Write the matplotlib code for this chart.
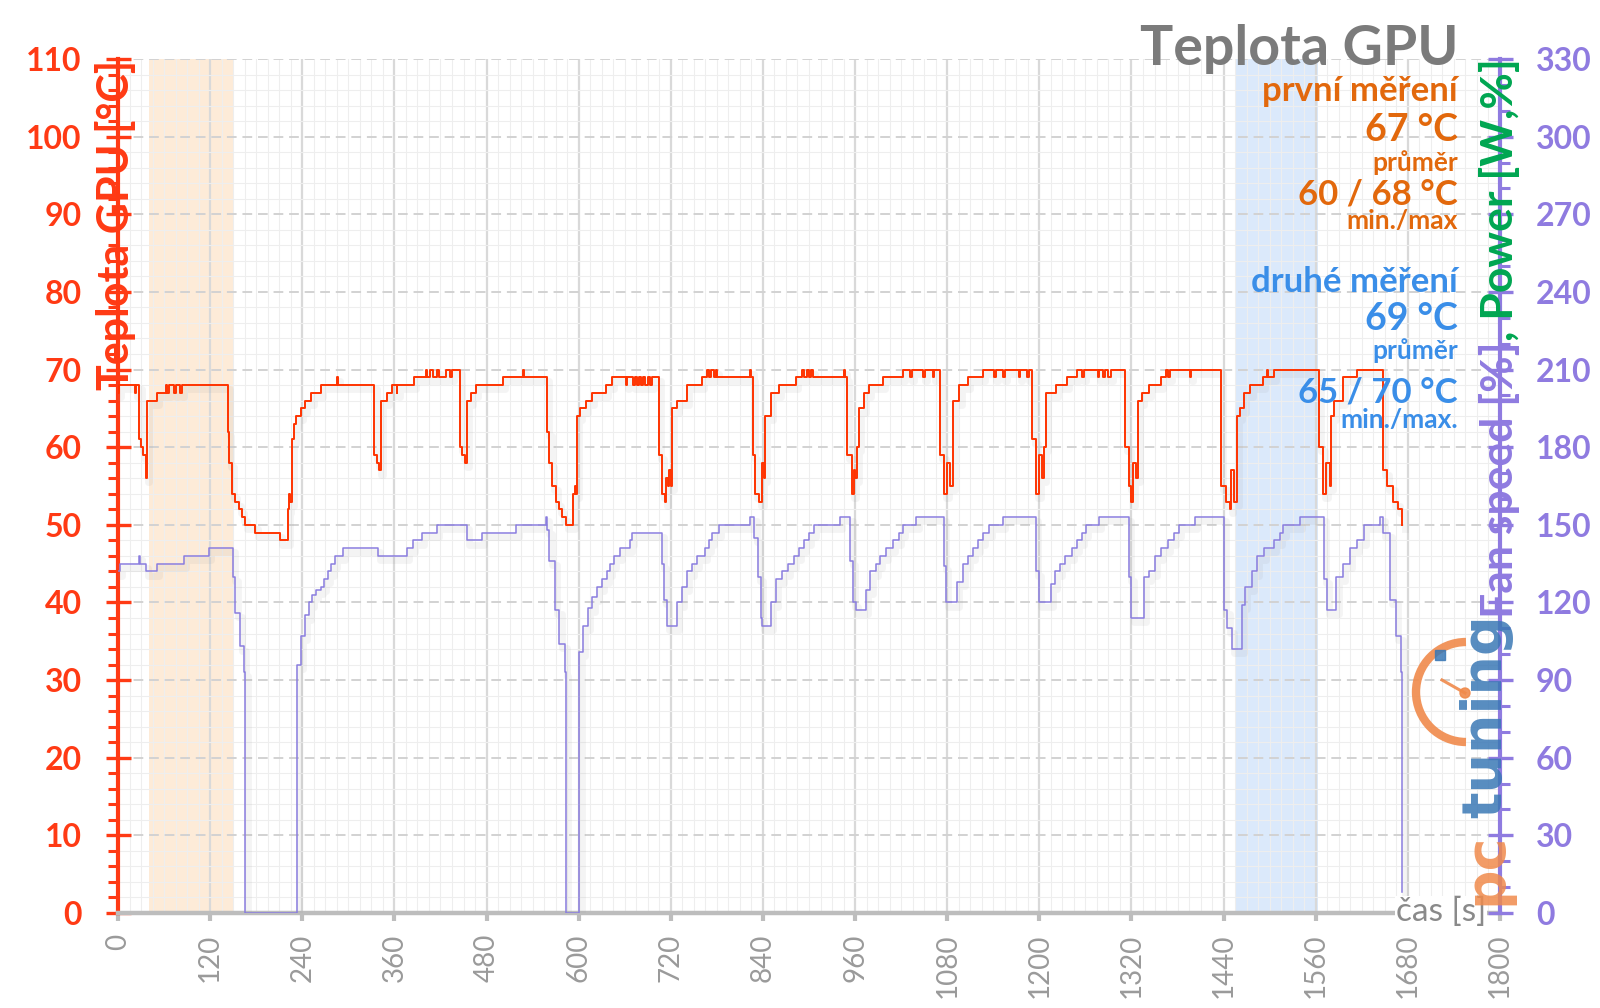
import numpy as np
import matplotlib.pyplot as plt
import matplotlib.patheffects as pe
from matplotlib.patches import Arc, Circle
from matplotlib.ticker import MultipleLocator

plt.rcParams['font.family'] = ['Lato', 'DejaVu Sans']

# ------------------ DATA ------------------
# GPU temperature [°C] : (time s, value) breakpoints, held until the next one
temp_pts = [
    (0, 67), (1, 68), (20, 68), (22, 67), (24, 68), (27, 68), (28, 61), (30, 60), (33, 59), (36, 56),
    (38, 66), (50, 66), (51, 67), (62, 67), (63, 68), (64, 67), (66, 68), (72, 68), (73, 67), (75, 68),
    (80, 68), (81, 67), (83, 68), (141, 68), (143, 62), (145, 58), (148, 54), (152, 53), (157, 52),
    (162, 51), (165, 50), (178, 50), (179, 49), (210, 49), (211, 48), (220, 48), (221, 52), (223, 54),
    (224, 53), (226, 61), (229, 63), (232, 64), (238, 65), (244, 66), (252, 67), (264, 68), (283, 68),
    (285, 69), (287, 68), (333, 68), (334, 59), (337, 58), (340, 57), (342, 60), (343, 66), (350, 67),
    (357, 68), (362, 68), (363, 67), (364, 68), (384, 68), (385, 69), (400, 69), (401, 70), (403, 69),
    (406, 70), (410, 69), (415, 70), (418, 69), (427, 70), (432, 69), (435, 70), (444, 70), (445, 60),
    (448, 59), (452, 58), (454, 62), (455, 66), (460, 67), (466, 68), (500, 68), (501, 69), (526, 69),
    (527, 70), (529, 69), (557, 69), (559, 62), (562, 58), (565, 55), (570, 53), (574, 52), (578, 51),
    (583, 50), (592, 50), (593, 54), (595, 55), (596, 54), (598, 64), (602, 65), (609, 66), (617, 67),
    (635, 68), (643, 69), (660, 69), (661, 68), (663, 69), (670, 69), (671, 68), (673, 69), (676, 68),
    (678, 69), (681, 68), (684, 69), (687, 68), (690, 69), (693, 68), (696, 69), (702, 69), (704, 59),
    (709, 54), (712, 53), (714, 56), (716, 55), (718, 57), (720, 55), (722, 65), (728, 66), (741, 68),
    (761, 69), (767, 70), (770, 69), (773, 70), (776, 69), (779, 70), (780, 69), (822, 69), (823, 70),
    (825, 69), (827, 59), (830, 54), (835, 53), (839, 58), (841, 56), (843, 64), (850, 67), (861, 68),
    (883, 69), (891, 70), (894, 69), (897, 70), (900, 69), (902, 70), (905, 69), (945, 69), (946, 70),
    (947, 69), (950, 59), (956, 54), (958, 57), (960, 56), (962, 60), (965, 65), (972, 67), (978, 68),
    (996, 69), (1022, 70), (1030, 70), (1031, 69), (1034, 70), (1048, 70), (1049, 69), (1051, 70),
    (1060, 70), (1061, 69), (1063, 70), (1067, 70), (1070, 59), (1076, 54), (1080, 58), (1083, 55),
    (1087, 66), (1096, 68), (1107, 69), (1126, 70), (1140, 70), (1141, 69), (1143, 70), (1152, 70),
    (1153, 69), (1155, 70), (1172, 70), (1173, 69), (1175, 70), (1183, 70), (1184, 69), (1186, 70),
    (1189, 70), (1191, 61), (1196, 54), (1200, 59), (1203, 56), (1206, 60), (1209, 67), (1222, 68),
    (1236, 69), (1249, 70), (1255, 69), (1258, 70), (1275, 70), (1276, 69), (1278, 70), (1283, 69),
    (1285, 70), (1290, 69), (1293, 70), (1306, 70), (1311, 60), (1317, 55), (1320, 53), (1322, 58),
    (1326, 56), (1329, 66), (1334, 67), (1343, 68), (1359, 69), (1365, 70), (1367, 69), (1370, 70),
    (1395, 70), (1396, 69), (1398, 70), (1432, 70), (1436, 55), (1443, 53), (1448, 52), (1450, 57),
    (1453, 53), (1457, 64), (1461, 65), (1466, 67), (1475, 68), (1491, 69), (1496, 70), (1498, 69),
    (1505, 70), (1562, 70), (1564, 60), (1569, 54), (1573, 58), (1578, 55), (1580, 64), (1584, 66),
    (1596, 69), (1614, 70), (1644, 70), (1648, 57), (1653, 55), (1660, 53), (1667, 52), (1673, 50),
]

# Fan speed (right axis scale) : (time s, value) breakpoints
fan_pts = [
    (0, 132), (2, 135), (27, 135), (28, 138), (29, 135), (36, 135), (37, 132), (50, 132), (51, 135),
    (85, 135), (86, 138), (118, 138), (119, 141), (147, 141), (150, 130), (153, 116), (159, 103),
    (164, 93), (166, 0), (231, 0), (233, 96), (238, 107), (244, 115), (249, 120), (253, 123), (258, 125),
    (264, 126), (268, 129), (273, 132), (278, 135), (282, 138), (293, 141), (338, 141), (339, 138),
    (374, 138), (376, 141), (384, 144), (396, 147), (415, 150), (453, 150), (455, 144), (473, 144),
    (474, 147), (518, 147), (519, 150), (554, 150), (557, 153), (559, 148), (562, 136), (569, 117),
    (575, 104), (582, 93), (584, 0), (598, 0), (601, 101), (606, 111), (612, 118), (618, 122), (624, 126),
    (630, 129), (637, 132), (641, 135), (646, 138), (654, 141), (667, 144), (670, 147), (704, 147),
    (708, 135), (711, 121), (715, 111), (724, 111), (728, 120), (735, 126), (741, 132), (748, 135),
    (754, 138), (765, 141), (770, 144), (774, 147), (783, 150), (822, 150), (823, 153), (827, 153),
    (829, 145), (833, 130), (837, 114), (839, 111), (846, 111), (850, 120), (857, 129), (865, 132),
    (872, 135), (880, 138), (887, 141), (893, 144), (900, 147), (907, 150), (939, 150), (940, 153),
    (950, 153), (954, 136), (957, 120), (961, 117), (969, 117), (974, 125), (980, 132), (987, 135),
    (993, 138), (1000, 141), (1009, 144), (1017, 147), (1022, 150), (1039, 150), (1040, 153),
    (1072, 153), (1076, 134), (1078, 120), (1089, 120), (1093, 128), (1100, 135), (1107, 138),
    (1113, 141), (1120, 144), (1126, 147), (1135, 150), (1152, 150), (1153, 153), (1191, 153),
    (1196, 132), (1199, 120), (1211, 120), (1215, 127), (1220, 132), (1227, 135), (1233, 138),
    (1242, 141), (1249, 144), (1256, 147), (1261, 150), (1277, 150), (1278, 153), (1312, 153),
    (1317, 130), (1320, 114), (1330, 114), (1336, 130), (1343, 132), (1350, 138), (1359, 141),
    (1368, 144), (1375, 147), (1382, 150), (1402, 150), (1403, 153), (1436, 153), (1441, 117),
    (1445, 110), (1451, 102), (1459, 102), (1464, 119), (1468, 126), (1477, 132), (1484, 138),
    (1493, 141), (1505, 144), (1514, 147), (1518, 150), (1539, 150), (1540, 153), (1564, 153),
    (1571, 129), (1575, 117), (1581, 117), (1587, 130), (1596, 135), (1605, 141), (1614, 144),
    (1623, 150), (1641, 150), (1644, 153), (1648, 147), (1657, 121), (1664, 107), (1671, 93), (1673, 8),
]

first_window = (40, 150)      # orange band, "první měření"
second_window = (1455, 1563)  # blue band, "druhé měření"

x_ticks = list(range(0, 1801, 120))
x_labels = [str(v) for v in x_ticks]
left_ticks = list(range(0, 111, 10))
left_labels = [str(v) for v in left_ticks]
right_ticks = list(range(0, 331, 30))
right_labels = [str(v) for v in right_ticks]

# annotation block: (text, baseline y px, font size, colour key)
stats = [
    ('první měření', 101, 25, 'o'),
    ('67 °C', 141, 27, 'o'),
    ('průměr', 171, 19, 'o'),
    ('60 / 68 °C', 204, 25, 'o'),
    ('min./max', 229, 19, 'o'),
    ('druhé měření', 292, 25, 'b'),
    ('69 °C', 330, 27, 'b'),
    ('průměr', 359, 19, 'b'),
    ('65 / 70 °C', 402, 25, 'b'),
    ('min./max.', 428, 19, 'b'),
]

RED = '#ff3a14'
PURPLE = '#8f7be0'
GREEN = '#00a651'
GRAY = '#9a9a9a'
TXT = {'o': '#e2680c', 'b': '#3a8ee8'}

temp_t, temp_v = np.array(temp_pts).T
fan_t, fan_v = np.array(fan_pts).T

# ------------------ FIGURE ------------------
fig = plt.figure(figsize=(16, 10.08), dpi=100)
W, H = 1600, 1008
ax = fig.add_axes([118 / W, 95 / H, 1382 / W, 854 / H])
ax2 = ax.twinx()

ax.axvspan(*first_window, color='#fdebd8', zorder=0.3, lw=0)
ax.axvspan(*second_window, color='#dbe9fb', zorder=0.3, lw=0)

ax.set_xlim(0, 1800)
ax.set_ylim(0, 110)
ax2.set_ylim(0, 330)

ax.xaxis.set_minor_locator(MultipleLocator(15))
ax.yaxis.set_minor_locator(MultipleLocator(2))
ax2.yaxis.set_minor_locator(MultipleLocator(10))
ax.set_axisbelow(True)
ax.grid(which='minor', color='#eeeeee', lw=0.8)
ax.grid(which='major', axis='x', color='#d9d9d9', lw=1.6)
ax.grid(which='major', axis='y', color='#d2d2d2', lw=1.4, ls=(0, (5, 3)))

shadow = [pe.SimpleLineShadow(offset=(1.5, -3), shadow_color='#999999', alpha=0.1, linewidth=5), pe.Normal()]
ax.plot(temp_t, temp_v, drawstyle='steps-post', color='#ff3300', lw=1.4, path_effects=shadow, zorder=3)
ax2.plot(fan_t, fan_v, drawstyle='steps-post', color='#8a7ddf', lw=1.1, path_effects=shadow, zorder=3)

# axes styling
for s in ('top', 'right'):
    ax.spines[s].set_visible(False)
for s in ('top', 'left', 'bottom'):
    ax2.spines[s].set_visible(False)
ax.spines['left'].set_color(RED)
ax.spines['left'].set_linewidth(3)
ax.spines['bottom'].set_color('#bdbdbd')
ax.spines['bottom'].set_linewidth(3.2)
ax2.spines['right'].set_color(PURPLE)
ax2.spines['right'].set_linewidth(3)

ax.set_xticks(x_ticks, x_labels, rotation=90, fontsize=20, color=GRAY)
ax.tick_params(axis='x', which='major', direction='out', length=6, width=3, color='#bdbdbd', pad=9)
ax.tick_params(axis='x', which='minor', length=0)

ax.set_yticks(left_ticks, left_labels, fontsize=23, fontweight='bold', color=RED)
ax.tick_params(axis='y', which='major', direction='inout', length=18, width=2.4, color=RED, pad=17)
ax.tick_params(axis='y', which='minor', direction='out', length=7, width=2.2, color=RED)

ax2.set_yticks(right_ticks, right_labels, fontsize=23, fontweight='bold', color=PURPLE)
ax2.tick_params(axis='y', which='major', direction='inout', length=18, width=2.4, color=PURPLE, pad=17)
ax2.tick_params(axis='y', which='minor', direction='out', length=7, width=2.2, color=PURPLE)

# ------------------ OVERLAY TEXT (pixel coordinates) ------------------
ov = fig.add_axes([0, 0, 1, 1], zorder=5)
ov.set_xlim(0, W)
ov.set_ylim(H, 0)
ov.axis('off')

ov.text(1458, 65, 'Teplota GPU', ha='right', va='baseline', fontsize=40,
        fontweight='bold', color='#7b7b7b')
for txt, yb, fs, c in stats:
    ov.text(1458, yb, txt, ha='right', va='baseline', fontsize=fs, fontweight='bold', color=TXT[c])

ov.text(115, 60, 'Teplota GPU [°C]', rotation=90, ha='center', va='top', fontsize=31,
        fontweight='bold', color=RED)

pw = ov.text(1500, 58, ', Power [W,%]', rotation=90, ha='center', va='top', fontsize=32,
             fontweight='bold', color=GREEN)
fig.canvas.draw()
bb = pw.get_window_extent()
y_join = ov.transData.inverted().transform((0, bb.y0))[1]
ov.text(1500, y_join, 'Fan speed [%]', rotation=90, ha='center', va='top', fontsize=32,
        fontweight='bold', color=PURPLE)

ov.text(1441, 912, 'čas [s]', ha='center', va='center', fontsize=24, color='#8a8a8a',
        bbox=dict(fc='white', ec='none', pad=1))

# pctuning watermark
ov.add_patch(Arc((1466, 692), 100, 100, theta1=90, theta2=270, color='#f08a4b', lw=6, alpha=0.9))
ov.plot([1442, 1465], [680, 693], color='#f08a4b', lw=2.2, alpha=0.9)
ov.add_patch(Circle((1465, 693), 5, color='#f08a4b', alpha=0.9))
ov.plot([1440], [655], marker='s', ms=7, color='#3a78b5', alpha=0.85)
ov.text(1486, 818, 'tuning', rotation=90, ha='center', va='bottom', fontsize=40,
        fontweight='bold', family='DejaVu Sans', color='#3a78b5', alpha=0.85)
ov.text(1486, 905, 'pc', rotation=90, ha='center', va='bottom', fontsize=40,
        fontweight='bold', family='DejaVu Sans', color='#f08a4b', alpha=0.85)

fig.savefig('out.png', dpi=100)
